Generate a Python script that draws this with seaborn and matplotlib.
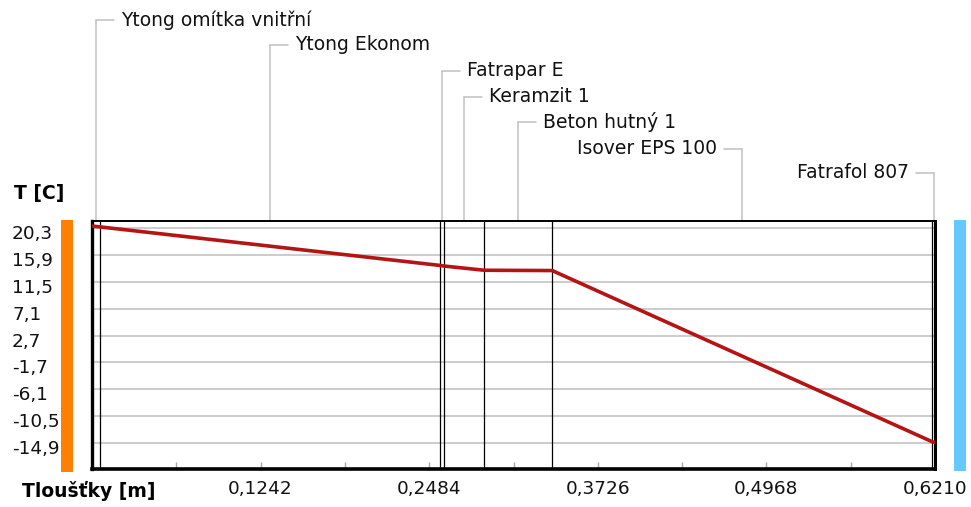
import matplotlib
matplotlib.use("Agg")
import matplotlib.pyplot as plt
import matplotlib.transforms as mtransforms
from matplotlib.patches import Rectangle
import seaborn as sns
import pandas as pd
import numpy as np

# ---- data ----
layer_names = ["Ytong omítka vnitřní", "Ytong Ekonom", "Fatrapar E", "Keramzit 1",
               "Beton hutný 1", "Isover EPS 100", "Fatrafol 807"]
layer_thickness = [0.006, 0.250, 0.003, 0.030, 0.050, 0.280, 0.002]
interface_temp = [20.65, 20.5, 14.2, 14.1, 13.4, 13.35, -14.7, -14.8]
y_tick_values = [20.3, 15.9, 11.5, 7.1, 2.7, -1.7, -6.1, -10.5, -14.9]
y_tick_labels = ["20,3", "15,9", "11,5", "7,1", "2,7", "-1,7", "-6,1", "-10,5", "-14,9"]
x_tick_values = [0.0621 * k for k in range(1, 11)]
x_tick_labels = ["", "0,1242", "", "0,2484", "", "0,3726", "", "0,4968", "", "0,6210"]
label_y_px = [20, 45, 71, 97, 122, 149, 173]
label_side = ["right", "right", "right", "right", "right", "left", "left"]

boundaries = np.concatenate([[0.0], np.cumsum(layer_thickness)])
df = pd.DataFrame({"x": boundaries, "T": interface_temp})

W, H = 971, 507
sns.set_style("white")
plt.rcParams["font.family"] = ["DejaVu Sans"]
fig = plt.figure(figsize=(W / 100, H / 100), dpi=100)
L, R, B, T = 92, 935, 469, 221
ax = fig.add_axes([L / W, (H - B) / H, (R - L) / W, (B - T) / H])

XMAX = 0.621
YMIN, YMAX = -19.16, 21.47
ax.set_xlim(0, XMAX)
ax.set_ylim(YMIN, YMAX)

# grid
for v in y_tick_values:
    ax.axhline(v, color="#C8C8C8", lw=1.3, zorder=1)

# layer boundaries
for b in boundaries[1:-1]:
    ax.axvline(b, color="black", lw=0.9, zorder=2)

sns.lineplot(data=df, x="x", y="T", ax=ax, color="#B41414", lw=2.6, zorder=3,
             estimator=None, sort=False)
ax.set_xlabel("")
ax.set_ylabel("")

# spines
for s, lw in [("left", 2.4), ("bottom", 2.6), ("right", 2.2), ("top", 1.4)]:
    ax.spines[s].set_visible(True)
    ax.spines[s].set_color("black")
    ax.spines[s].set_linewidth(lw)

# x ticks
ax.set_xticks(x_tick_values)
ax.set_xticklabels(x_tick_labels, fontsize=13.3, color="#111111")
ax.tick_params(axis="x", bottom=True, direction="in", length=5, width=1,
               color="#A8A8A8", pad=8)

# y ticks
ax.set_yticks(y_tick_values)
ax.set_yticklabels(y_tick_labels, fontsize=13.3, color="#111111")
ax.tick_params(axis="y", left=False, length=0, pad=(L - 12) * 0.72)
off = mtransforms.ScaledTranslation(0, -4 / 100, fig.dpi_scale_trans)
for lab in ax.get_yticklabels():
    lab.set_horizontalalignment("left")
    lab.set_transform(lab.get_transform() + off)

# axis titles
fig.text(14 / W, 1 - 194 / H, "T [C]", fontsize=13.5, fontweight="bold",
         ha="left", va="center", color="black")
fig.text(22 / W, 1 - 491 / H, "Tloušťky [m]", fontsize=13.5, fontweight="bold",
         ha="left", va="center", color="black")

# side colour bars
fig.add_artist(Rectangle((61 / W, 1 - 472 / H), 12 / W, 252 / H,
                         transform=fig.transFigure, color="#FF8000", lw=0))
fig.add_artist(Rectangle((954 / W, 1 - 471 / H), 12 / W, 251 / H,
                         transform=fig.transFigure, color="#66C8FF", lw=0))

# leader labels
tr = ax.get_xaxis_transform()
px_per_unit = (R - L) / XMAX
seg = 18 / px_per_unit
gap = 7 / px_per_unit
for i, name in enumerate(layer_names):
    xc = (boundaries[i] + boundaries[i + 1]) / 2
    ya = (B - label_y_px[i]) / (B - T)
    ax.plot([xc, xc], [1.0, ya], transform=tr, color="#C0C0C0", lw=1.1,
            clip_on=False, zorder=0)
    if label_side[i] == "right":
        ax.plot([xc, xc + seg], [ya, ya], transform=tr, color="#C0C0C0", lw=1.1,
                clip_on=False)
        ax.text(xc + seg + gap, ya, name, transform=tr, ha="left", va="center",
                fontsize=13.5, color="#111111")
    else:
        ax.plot([xc, xc - seg], [ya, ya], transform=tr, color="#C0C0C0", lw=1.1,
                clip_on=False)
        ax.text(xc - seg - gap, ya, name, transform=tr, ha="right", va="center",
                fontsize=13.5, color="#111111")

fig.savefig("out.png", dpi=100)
